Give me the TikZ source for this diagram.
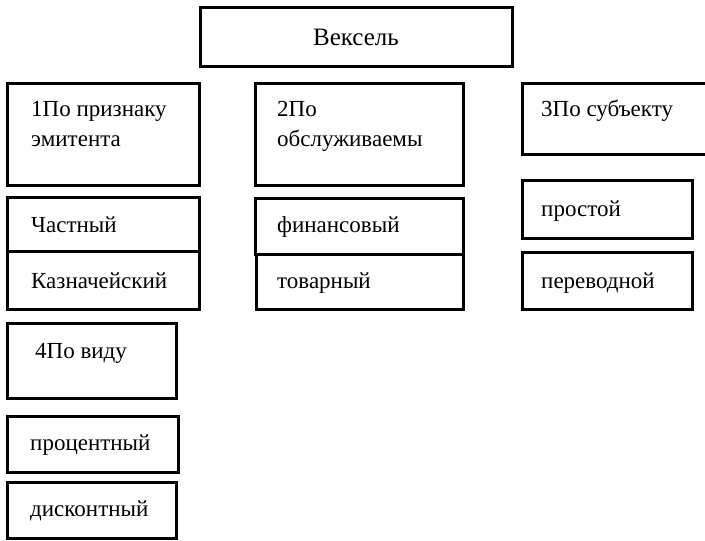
\documentclass[tikz,border=0pt]{standalone}
\usepackage{fontspec}
\setmainfont{Liberation Serif}
\begin{document}
\begin{tikzpicture}[x=1pt,y=-1pt,
  box/.style={draw=black,line width=3pt,inner sep=0pt},
  txt/.style={anchor=base west,inner sep=0pt,font=\fontsize{23}{27}\selectfont},
  ctxt/.style={anchor=base,inner sep=0pt,font=\fontsize{25}{29}\selectfont}]
\useasboundingbox (0,0) rectangle (705,541);
% boxes
\node[box,minimum width=312pt,minimum height=59pt] (v) at (356,37.2) {};
\node[box,minimum width=192pt,minimum height=101.7pt] (b1) at (103,134.2) {};
\node[box,minimum width=207.6pt,minimum height=101.7pt] (b2) at (359.5,134.2) {};
\node[box,minimum width=189.7pt,minimum height=71pt] (b3) at (617.2,118.8) {};
\node[box,minimum width=192pt,minimum height=54pt] (c1) at (103,224.5) {};
\node[box,minimum width=192pt,minimum height=58pt] (c2) at (103,280.5) {};
\node[box,minimum width=207.6pt,minimum height=56pt] (f1) at (359.5,226) {};
\node[box,minimum width=206.6pt,minimum height=55.5pt] (f2) at (360,281.75) {};
\node[box,minimum width=169.7pt,minimum height=58.3pt] (p1) at (607.15,209.15) {};
\node[box,minimum width=169.7pt,minimum height=57.5pt] (p2) at (607.15,280.75) {};
\node[box,minimum width=168.3pt,minimum height=75pt] (b4) at (91.85,360.5) {};
\node[box,minimum width=170.7pt,minimum height=56pt] (d1) at (92.65,444) {};
\node[box,minimum width=168.7pt,minimum height=56pt] (d2) at (91.65,510) {};
% texts
\node[ctxt] (tv) at (356,45) {Вексель};
\node[txt] (t1a) at (31,116) {1По признаку};
\node[txt] (t1b) at (31,146) {эмитента};
\node[txt] (t2a) at (277,116) {2По};
\node[txt] (t2b) at (277,146) {обслуживаемы};
\node[txt] (t3) at (541,116) {3По субъекту};
\node[txt] (tc1) at (31,232) {Частный};
\node[txt] (tc2) at (31,288) {Казначейский};
\node[txt] (tf1) at (277,232) {финансовый};
\node[txt] (tf2) at (277,288) {товарный};
\node[txt] (tp1) at (541,216) {простой};
\node[txt] (tp2) at (541,288) {переводной};
\node[txt] (t4) at (35,358) {4По виду};
\node[txt] (td1) at (30,450) {процентный};
\node[txt] (td2) at (30,516) {дисконтный};
\end{tikzpicture}
\end{document}
